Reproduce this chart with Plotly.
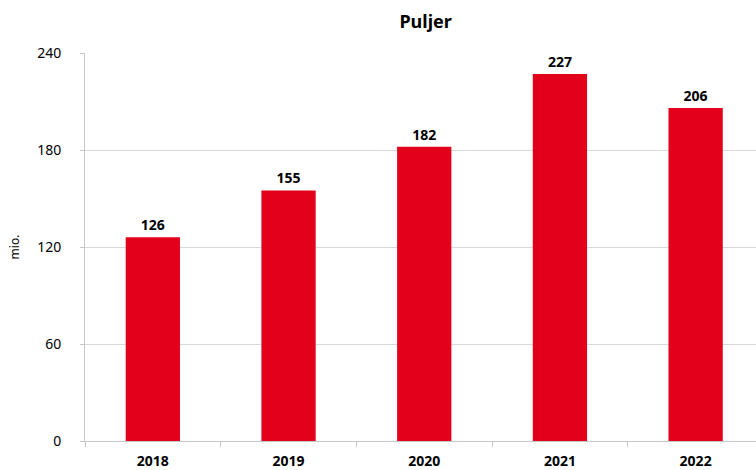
import plotly.graph_objects as go

YEARS = ["2018", "2019", "2020", "2021", "2022"]
PULJER = [126, 155, 182, 227, 206]
Y_TICKS = [0, 60, 120, 180, 240]

fig = go.Figure()

fig.add_trace(
    go.Bar(
        x=YEARS,
        y=PULJER,
        marker=dict(color="#e2001a", line=dict(width=0)),
        width=0.4,
        text=PULJER,
        textposition="outside",
        textfont=dict(family="Noto Sans", size=14, color="black", weight="bold"),
        cliponaxis=False,
        showlegend=False))

fig.update_layout(
    width=756, height=470,
    margin=dict(l=85, r=0, t=53, b=29, autoexpand=False),
    plot_bgcolor="white", paper_bgcolor="white",
    title=dict(text="<b>Puljer</b>", x=0.563, xanchor="center", y=0.953, yanchor="middle",
               font=dict(family="Noto Sans", size=18, color="black")),
    font=dict(family="Noto Sans", size=14, color="black"),
    bargap=0.6)

fig.update_xaxes(
    type="category",
    range=[-0.5, 4.445],
    automargin=False,
    showline=True, linecolor="#c8c8c8", linewidth=1,
    ticks="outside", tickson="boundaries", ticklen=5, tickcolor="#c8c8c8",
    ticklabelstandoff=7,
    showgrid=False,
    tickfont=dict(family="Noto Sans", size=14, color="black", weight="bold"))

fig.update_yaxes(
    range=[0, 240],
    tickvals=Y_TICKS,
    automargin=False,
    showgrid=True, gridcolor="#d9d9d9", gridwidth=1,
    showline=True, linecolor="#c8c8c8", linewidth=1,
    zeroline=False,
    ticks="outside", ticklen=4, tickcolor="#c8c8c8",
    ticklabelstandoff=16,
    tickfont=dict(family="Noto Sans", size=14, color="black"),
    title=dict(text="mio.", standoff=14, font=dict(family="Noto Sans", size=12, color="black")))

# the page body has a default margin that pushes the chart off the window
fig.write_html("out.html", config={"displayModeBar": False},
               post_script="document.body.style.margin='0';")
